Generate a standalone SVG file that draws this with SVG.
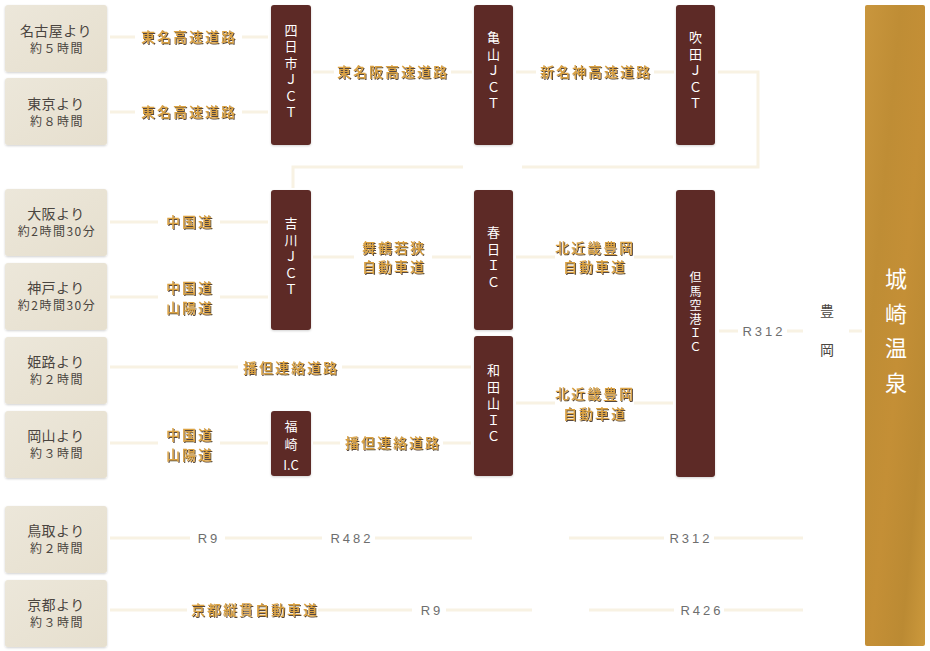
<svg xmlns="http://www.w3.org/2000/svg" width="930" height="651" viewBox="0 0 930 651">
<defs>
<filter id="sh" x="-10%" y="-30%" width="120%" height="160%">
<feDropShadow dx="1" dy="1" stdDeviation="0.5" flood-color="#2a1808" flood-opacity="0.8"/>
</filter>
<filter id="bs" x="-10%" y="-10%" width="120%" height="120%">
<feDropShadow dx="0" dy="1" stdDeviation="1" flood-color="#000" flood-opacity="0.18"/>
</filter>
<linearGradient id="gold" x1="0" y1="0" x2="1" y2="1">
<stop offset="0" stop-color="#c9963d"/>
<stop offset="0.3" stop-color="#bf8d35"/>
<stop offset="0.55" stop-color="#c48f36"/>
<stop offset="0.8" stop-color="#bb8a33"/>
<stop offset="1" stop-color="#cc993c"/>
</linearGradient>
<linearGradient id="beige" x1="0" y1="0" x2="1" y2="1">
<stop offset="0" stop-color="#ece7da"/>
<stop offset="1" stop-color="#e6dfce"/>
</linearGradient>
</defs>
<style>
.src rect{fill:url(#beige);filter:url(#bs)}
.t1{font-family:"Noto Sans CJK JP","Noto Sans",sans-serif;font-size:14px;fill:#4a4540;text-anchor:middle;letter-spacing:0.5px}
.t2{font-family:"Noto Sans CJK JP","Noto Sans",sans-serif;font-size:12px;fill:#4a4540;text-anchor:middle;letter-spacing:1.5px}
.nd rect{fill:#5d2a27;filter:url(#bs)}
.v{writing-mode:vertical-rl;text-anchor:middle}
.nt{font-family:"Noto Sans CJK JP","Noto Sans",sans-serif;font-size:13px;fill:#ffffff;letter-spacing:3.5px}
.nts{font-family:"Noto Sans CJK JP","Noto Sans",sans-serif;font-size:12px;fill:#ffffff;letter-spacing:2px}
.ic{font-family:"Noto Sans CJK JP","Noto Sans",sans-serif;font-size:13px;fill:#ffffff;text-anchor:middle}
.rd{font-family:"Noto Sans CJK JP","Noto Sans",sans-serif;font-size:14px;font-weight:500;fill:#dba243;text-anchor:middle;letter-spacing:2px;filter:url(#sh)}
.rn{font-family:"Liberation Sans",Arial,sans-serif;font-size:13px;fill:#6e6e6e;text-anchor:middle;letter-spacing:3px}
.ln{stroke:#f8f2e3;stroke-width:3;fill:none}
.dest{font-family:"Noto Sans CJK JP","Noto Sans",sans-serif;font-size:22px;fill:#ffffff;letter-spacing:12.5px}
.toy{font-family:"Noto Sans CJK JP","Noto Sans",sans-serif;font-size:14px;fill:#4a4540;letter-spacing:25px}
</style>
<rect width="930" height="651" fill="#ffffff"/>

<g id="connectors" class="ln">
<path d="M110 37H135M242 37H268"/>
<path d="M110 112H135M242 112H268"/>
<path d="M313 72H334M451 72H472M516 72H536M654 72H674"/>
<path d="M718 72H758V167H522M463 167H293V188"/>
<path d="M110 222H158M220 222H268"/>
<path d="M110 297H158M220 297H268"/>
<path d="M313 257H354M432 257H471M516 257H555M634 257H673"/>
<path d="M110 367H238M342 367H471"/>
<path d="M110 443H158M220 443H268M313 443H340M443 443H471"/>
<path d="M516 403H555M634 403H673"/>
<path d="M719 331H738M787 331H803M849 331H862"/>
<path d="M110 538H190M225 538H322M375 538H472M569 538H664M714 538H803"/>
<path d="M110 610H187M318 610H412M446 610H532M589 610H674M724 610H803"/>
</g>

<g id="labels">
<text class="rd" x="189" y="42">東名高速道路</text>
<text class="rd" x="189" y="117">東名高速道路</text>
<text class="rd" x="393" y="77">東名阪高速道路</text>
<text class="rd" x="596" y="77">新名神高速道路</text>
<text class="rd" x="190" y="227">中国道</text>
<text class="rd" x="190" y="293">中国道</text>
<text class="rd" x="190" y="313">山陽道</text>
<text class="rd" x="394" y="253">舞鶴若狭</text>
<text class="rd" x="394" y="272">自動車道</text>
<text class="rd" x="595" y="253">北近畿豊岡</text>
<text class="rd" x="595" y="272">自動車道</text>
<text class="rd" x="291" y="373">播但連絡道路</text>
<text class="rd" x="190" y="440">中国道</text>
<text class="rd" x="190" y="460">山陽道</text>
<text class="rd" x="393" y="448">播但連絡道路</text>
<text class="rd" x="595" y="399">北近畿豊岡</text>
<text class="rd" x="595" y="418.5">自動車道</text>
<text class="rd" x="255" y="615">京都縦貫自動車道</text>
<text class="rn" x="764" y="336">R312</text>
<text class="rn" x="209" y="543">R9</text>
<text class="rn" x="352" y="543">R482</text>
<text class="rn" x="691" y="543">R312</text>
<text class="rn" x="432" y="615">R9</text>
<text class="rn" x="702" y="615">R426</text>
</g>

<g id="src-nagoya" class="src"><rect x="5" y="5" width="102" height="67" rx="3"/><text class="t1" x="56" y="36">名古屋より</text><text class="t2" x="57" y="53">約５時間</text></g>
<g id="src-tokyo" class="src"><rect x="5" y="78" width="102" height="67" rx="3"/><text class="t1" x="56" y="109">東京より</text><text class="t2" x="57" y="126">約８時間</text></g>
<g id="src-osaka" class="src"><rect x="5" y="189" width="102" height="67" rx="3"/><text class="t1" x="56" y="219">大阪より</text><text class="t2" x="57" y="236">約2時間30分</text></g>
<g id="src-kobe" class="src"><rect x="5" y="263" width="102" height="67" rx="3"/><text class="t1" x="56" y="293">神戸より</text><text class="t2" x="57" y="310">約2時間30分</text></g>
<g id="src-himeji" class="src"><rect x="5" y="337" width="102" height="67" rx="3"/><text class="t1" x="56" y="367">姫路より</text><text class="t2" x="57" y="384">約２時間</text></g>
<g id="src-okayama" class="src"><rect x="5" y="411" width="102" height="67" rx="3"/><text class="t1" x="56" y="441">岡山より</text><text class="t2" x="57" y="458">約３時間</text></g>
<g id="src-tottori" class="src"><rect x="5" y="506" width="102" height="67" rx="3"/><text class="t1" x="56" y="536">鳥取より</text><text class="t2" x="57" y="553">約２時間</text></g>
<g id="src-kyoto" class="src"><rect x="5" y="580" width="102" height="67" rx="3"/><text class="t1" x="56" y="610">京都より</text><text class="t2" x="57" y="627">約３時間</text></g>

<g id="n-yokkaichi" class="nd"><rect x="271" y="5" width="40" height="140" rx="3"/><text class="nt v" x="291" y="73">四日市ＪＣＴ</text></g>
<g id="n-kameyama" class="nd"><rect x="474" y="5" width="39" height="140" rx="3"/><text class="nt v" x="493.5" y="72">亀山ＪＣＴ</text></g>
<g id="n-suita" class="nd"><rect x="676" y="5" width="39" height="140" rx="3"/><text class="nt v" x="695.5" y="72">吹田ＪＣＴ</text></g>
<g id="n-yokawa" class="nd"><rect x="271" y="190" width="40" height="140" rx="3"/><text class="nt v" x="291" y="258">吉川ＪＣＴ</text></g>
<g id="n-kasuga" class="nd"><rect x="474" y="190" width="39" height="140" rx="3"/><text class="nt v" x="493.5" y="259">春日ＩＣ</text></g>
<g id="n-wadayama" class="nd"><rect x="474" y="336" width="39" height="140" rx="3"/><text class="nt v" x="493.5" y="405">和田山ＩＣ</text></g>
<g id="n-tajima" class="nd"><rect x="676" y="190" width="39" height="287" rx="3"/><text class="nts v" x="695.5" y="313">但馬空港ＩＣ</text></g>
<g id="n-fukusaki" class="nd"><rect x="271" y="411" width="40" height="65" rx="3"/><text class="nt v" x="291" y="438" style="letter-spacing:5px">福崎</text><text class="ic" x="291" y="470">I.C</text></g>

<g id="toyooka"><text class="toy v" x="827" y="343">豊岡</text></g>

<g id="dest-kinosaki"><rect x="865" y="5" width="60" height="641" rx="2" fill="url(#gold)"/><text class="dest v" x="896" y="337">城崎温泉</text></g>
</svg>
